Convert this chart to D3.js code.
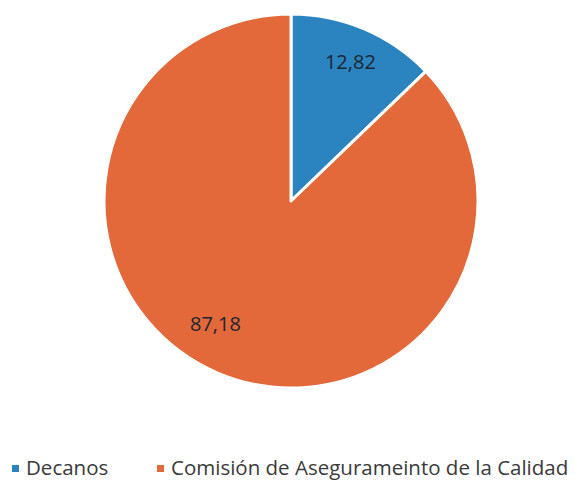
<!DOCTYPE html>
<html>
<head>
<meta charset="utf-8">
<script src="https://cdn.jsdelivr.net/npm/d3@7"></script>
<style>
  body { margin: 0; background: #fff; }
  svg { display: block; }
</style>
</head>
<body>
<svg width="585" height="481"></svg>
<script>
var categories = ['Decanos', 'Comisión de Aseguramiento de la Calidad'];
var legendLabels = ['Decanos', 'Comisión de Asegurameinto de la Calidad'];
var values = [12.82, 87.18];
var colors = ['#2b84bf', '#e3683a'];

var svg = d3.select('svg');
var cx = 291, cy = 201, radius = 187;

var pie = d3.pie().sort(null).value(function(d){ return d; });
var arcs = pie(values);

var arc = d3.arc().innerRadius(0).outerRadius(radius);
var labelArc = d3.arc().innerRadius(radius * 0.81).outerRadius(radius * 0.81);

var g = svg.append('g').attr('transform', 'translate(' + cx + ',' + cy + ')');

g.selectAll('path')
  .data(arcs)
  .enter().append('path')
  .attr('d', arc)
  .style('fill', function(d, i){ return colors[i]; })
  .style('stroke', '#fff')
  .style('stroke-width', 3)
  .style('stroke-linejoin', 'round');

// format with comma decimal, like the original
function fmt(v){ return d3.format('.2f')(v).replace('.', ','); }

g.selectAll('text.label')
  .data(arcs)
  .enter().append('text')
  .attr('class', 'label')
  .attr('transform', function(d){
    var c = labelArc.centroid(d);
    // orange label sits a bit further round toward the left in the original
    if (d.index === 1) {
      var a = (d.startAngle + d.endAngle) / 2 + 0.15;
      var r = radius * 0.77;
      c = [Math.sin(a) * r, -Math.cos(a) * r];
    }
    return 'translate(' + c[0] + ',' + c[1] + ')';
  })
  .attr('text-anchor', 'middle')
  .attr('dy', '0.35em')
  .style('font-family', '"Open Sans", sans-serif')
  .style('font-size', '20px')
  .style('fill', '#1d2633')
  .text(function(d){ return fmt(d.data); });

// legend
var legendX = [12, 157];
var legend = svg.append('g').attr('transform', 'translate(0,468)');
var item = legend.selectAll('g')
  .data(legendLabels)
  .enter().append('g')
  .attr('transform', function(d, i){ return 'translate(' + legendX[i] + ',0)'; });

item.append('rect')
  .attr('x', 0).attr('y', -3)
  .attr('width', 7).attr('height', 7)
  .style('fill', function(d, i){ return colors[i]; });

item.append('text')
  .attr('x', 14)
  .attr('dy', '0.35em')
  .style('font-family', '"Open Sans", sans-serif')
  .style('font-size', '20.5px')
  .style('fill', '#3a3a3a')
  .text(function(d){ return d; });
</script>
</body>
</html>
